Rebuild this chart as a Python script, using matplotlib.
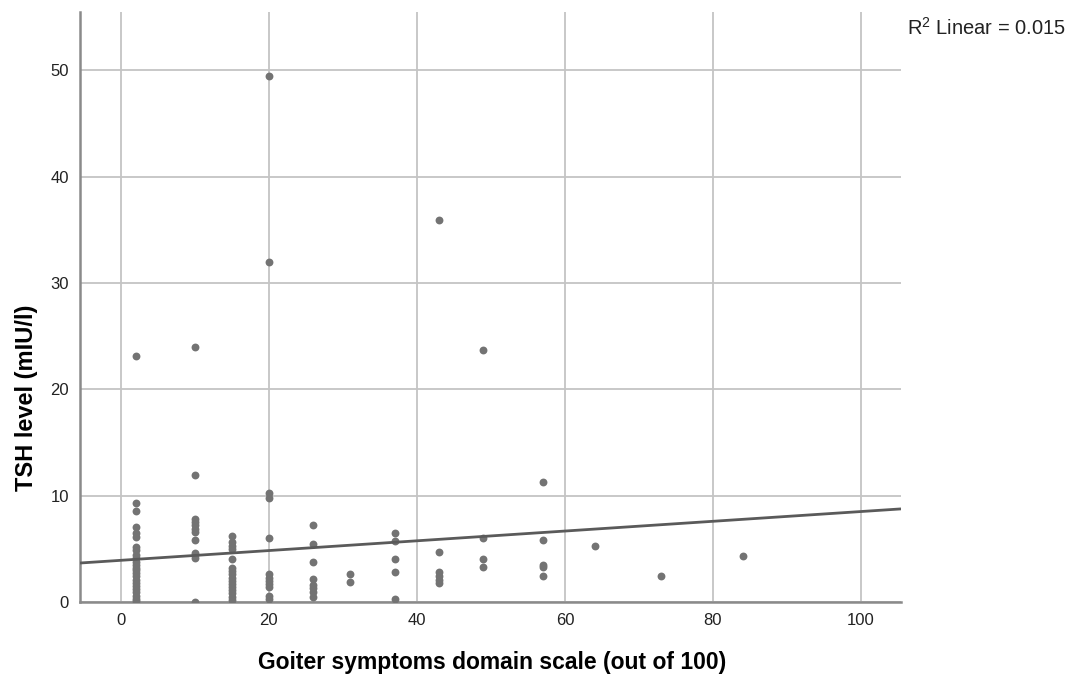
import matplotlib
matplotlib.use("Agg")
import matplotlib.pyplot as plt
import numpy as np

plt.rcParams['font.family'] = ['Liberation Sans', 'DejaVu Sans']
plt.rcParams['mathtext.fontset'] = 'custom'
plt.rcParams['mathtext.rm'] = 'Liberation Sans'

# Data: (goiter symptom score, TSH values)
x2 = [23.1, 9.3, 8.6, 7.1, 6.5, 6.1, 5.2, 4.9, 4.4, 4.1, 3.8, 3.5, 3.2, 3.0,
      2.7, 2.4, 2.1, 1.8, 1.5, 1.2, 0.9, 0.6, 0.3, 0.1]
x10 = [24.0, 11.9, 7.8, 7.5, 7.2, 6.9, 6.6, 5.8, 4.6, 4.4, 4.1, 0.0]
x15 = [6.2, 5.6, 5.3, 5.0, 4.0, 3.2, 2.9, 2.6, 2.3, 2.0, 1.7, 1.4, 1.1, 0.8, 0.5, 0.2]
x20 = [49.5, 32.0, 10.3, 9.8, 6.0, 2.6, 2.3, 2.0, 1.7, 1.4, 0.6, 0.3]
x26 = [7.2, 5.5, 3.8, 2.2, 1.6, 1.3, 0.9, 0.5]
x31 = [2.6, 1.9]
x37 = [6.5, 5.7, 4.0, 2.8, 0.3]
x43 = [35.9, 4.7, 2.8, 2.4, 2.1, 1.8]
x49 = [23.7, 6.0, 4.0, 3.3]
x57 = [11.3, 5.8, 3.5, 3.3, 2.4]
x64 = [5.3]
x73 = [2.4]
x84 = [4.3]

groups = {2: x2, 10: x10, 15: x15, 20: x20, 26: x26, 31: x31, 37: x37,
          43: x43, 49: x49, 57: x57, 64: x64, 73: x73, 84: x84}

fit_intercept = 3.92
fit_slope = 0.0459

xs = np.concatenate([[k] * len(v) for k, v in groups.items()])
ys = np.concatenate([v for v in groups.values()])

fig = plt.figure(figsize=(10.79, 6.76), dpi=100)
ax = fig.add_axes([80 / 1079, 1 - 602 / 676, (901 - 80) / 1079, (602 - 12) / 676])

xlim = (-5.5, 105.4)
ylim = (0, 55.5)
ax.set_xlim(*xlim)
ax.set_ylim(*ylim)

ax.set_xticks([0, 20, 40, 60, 80, 100])
ax.set_yticks([0, 10, 20, 30, 40, 50])
ax.grid(True, color='#c4c4c4', linewidth=1.3)
ax.set_axisbelow(True)

for s in ['top', 'right']:
    ax.spines[s].set_visible(False)
for s in ['left', 'bottom']:
    ax.spines[s].set_color('#8a8a8a')
    ax.spines[s].set_linewidth(1.8)

ax.tick_params(length=0, labelsize=12, colors='#222222', pad=8)

ax.scatter(xs, ys, s=32, color='#737373', zorder=3, linewidths=0)

lx = np.array(xlim)
ax.plot(lx, fit_intercept + fit_slope * lx, color='#5a5a5a', linewidth=2, zorder=4,
        solid_capstyle='butt')

ax.set_ylabel("TSH level (mIU/l)", fontsize=17, fontweight='bold',
              va='center', ha='center')
ax.yaxis.set_label_coords(-(80 - 27) / 821, (602 - 398) / 590)
ax.set_xlabel("Goiter symptoms domain scale (out of 100)", fontsize=16.5,
              fontweight='bold', va='center', ha='center')
ax.xaxis.set_label_coords((492 - 80) / 821, -(662 - 602) / 590)

fig.text(907 / 1079, 1 - 28 / 676, "R$^{2}$ Linear = 0.015", fontsize=14.5,
         ha='left', va='center', color='#222222')

fig.savefig("out.png", dpi=100, facecolor='white')
